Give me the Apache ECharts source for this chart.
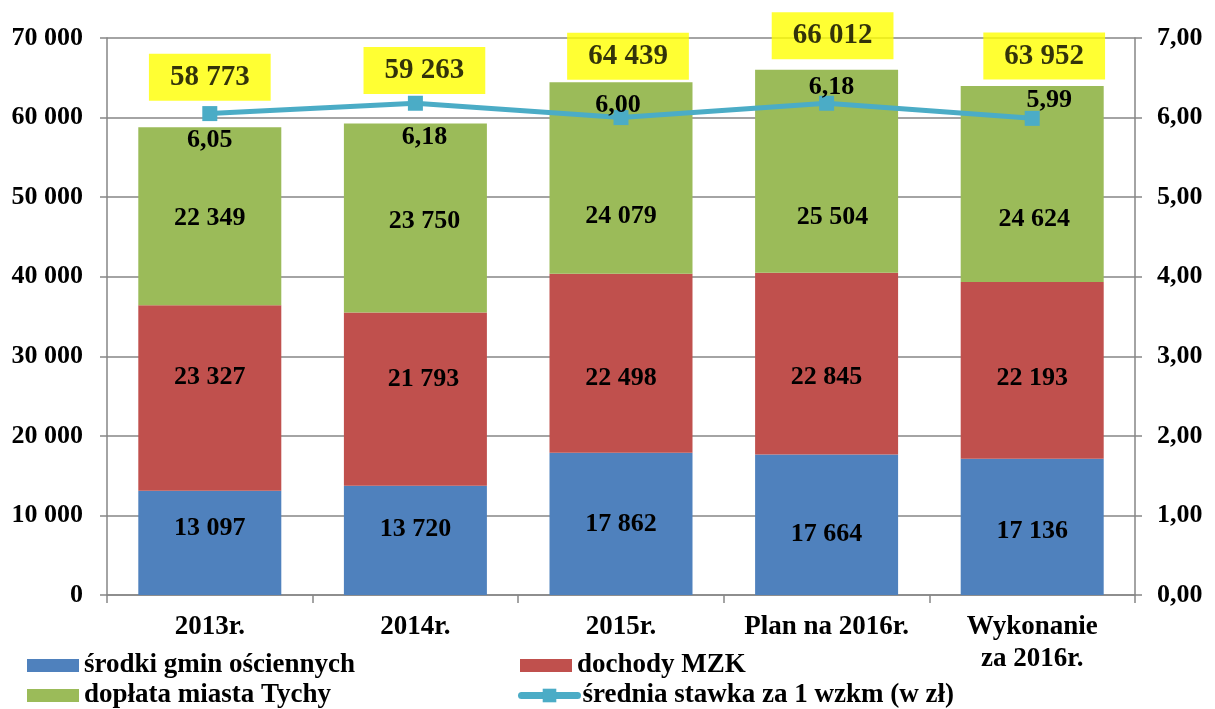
<!DOCTYPE html>
<html>
<head>
<meta charset="utf-8">
<script src="https://cdn.jsdelivr.net/npm/echarts@6/dist/echarts.min.js"></script>
<style>html,body{margin:0;padding:0;background:#fff}#c{width:1215px;height:709px}</style>
</head>
<body>
<div id="c"></div>
<script>
// ---- data ----
const categories = ['2013r.', '2014r.', '2015r.', 'Plan na 2016r.', 'Wykonanie\nza 2016r.'];
const srodkiGmin = [13097, 13720, 17862, 17664, 17136];
const dochodyMZK = [23327, 21793, 22498, 22845, 22193];
const doplataTychy = [22349, 23750, 24079, 25504, 24624];
const sumy = [58773, 59263, 64439, 66012, 63952];
const stawka = [6.05, 6.18, 6.00, 6.18, 5.99];
const leftTicks = [0, 70000, 10000];
const rightTicks = [0, 7, 1];
const seriesNames = ['środki gmin ościennych', 'dochody MZK', 'dopłata miasta Tychy', 'średnia stawka za 1 wzkm (w zł)'];

// ---- label placement (styling) ----
const offBlue = [[0,-15],[0,-11],[0,0],[0,10],[0,4]];
const offRed = [[0,-21],[8,-20],[0,15],[0,14],[0,8]];
const offGreen = [[0,2],[9,3],[0,38],[6,46],[2,35]];
const offLine = [[0,27],[9,34],[-3,-12],[5,-16],[17,-18]];
const offSum = [[0,-50],[9,-53],[7,-26],[6,-34],[12,-30]];

const FONT = "'Times New Roman','Liberation Serif',serif";
const fmtThousands = v => String(Math.round(v)).replace(/\B(?=(\d{3})+(?!\d))/g, ' ');
const fmtDec = v => Number(v).toFixed(2).replace('.', ',');

const segLabel = {show: true, position: 'inside', color: '#000', fontFamily: FONT, fontWeight: 'bold', fontSize: 26,
  formatter: p => fmtThousands(p.value)};
const withOff = (vals, offs) => vals.map((v, i) => ({value: v, label: {offset: offs[i]}}));

const legendText = {color: '#000', fontFamily: FONT, fontWeight: 'bold', fontSize: 27, lineHeight: 27};
const mkLegend = (name, left, top, extra) => Object.assign({left, top, padding: 0, itemWidth: 52, itemHeight: 13, itemGap: 0,
  icon: 'rect', data: [name], textStyle: legendText}, extra || {});

const chart = echarts.init(document.getElementById('c'), null, {renderer: 'canvas'});
const axisGray = '#868686';
chart.setOption({
  animation: false,
  backgroundColor: '#fff',
  grid: {left: 107, right: 80, top: 38, bottom: 114, containLabel: false},
  legend: [
    mkLegend(seriesNames[0], 27, 652),
    mkLegend(seriesNames[2], 27, 682),
    mkLegend(seriesNames[1], 520, 652),
    {left: 518, top: 682, padding: 0, itemWidth: 56, itemHeight: 17, itemGap: 0,
     data: [seriesNames[3]], textStyle: legendText, lineStyle: {width: 7, cap: 'round'}}
  ],
  xAxis: {
    type: 'category', data: categories,
    axisLine: {lineStyle: {color: axisGray, width: 1.5}},
    axisTick: {show: true, length: 8, lineStyle: {color: axisGray, width: 1.5}},
    axisLabel: {color: '#000', fontFamily: FONT, fontWeight: 'bold', fontSize: 27, lineHeight: 32, margin: 16, interval: 0}
  },
  yAxis: [
    {type: 'value', min: leftTicks[0], max: leftTicks[1], interval: leftTicks[2],
     axisLine: {show: true, lineStyle: {color: axisGray, width: 1.5}},
     axisTick: {show: true, length: 7, lineStyle: {color: axisGray, width: 1.5}},
     splitLine: {show: true, lineStyle: {color: axisGray, width: 1.5}},
     axisLabel: {color: '#000', fontFamily: FONT, fontWeight: 'bold', fontSize: 26, margin: 24, formatter: fmtThousands}},
    {type: 'value', min: rightTicks[0], max: rightTicks[1], interval: rightTicks[2], position: 'right',
     axisLine: {show: true, lineStyle: {color: axisGray, width: 1.5}},
     axisTick: {show: true, length: 7, lineStyle: {color: axisGray, width: 1.5}},
     splitLine: {show: false},
     axisLabel: {color: '#000', fontFamily: FONT, fontWeight: 'bold', fontSize: 26, margin: 22, formatter: fmtDec}}
  ],
  series: [
    {name: seriesNames[0], type: 'bar', stack: 'a', barWidth: 143, itemStyle: {color: '#4F81BD'},
     label: segLabel, data: withOff(srodkiGmin, offBlue)},
    {name: seriesNames[1], type: 'bar', stack: 'a', barWidth: 143, itemStyle: {color: '#C0504D'},
     label: segLabel, data: withOff(dochodyMZK, offRed)},
    {name: seriesNames[2], type: 'bar', stack: 'a', barWidth: 143, itemStyle: {color: '#9BBB59'},
     label: segLabel, data: withOff(doplataTychy, offGreen)},
    {name: seriesNames[3], type: 'line', yAxisIndex: 1, z: 5,
     symbol: 'rect', symbolSize: 15,
     lineStyle: {color: '#4BACC6', width: 5}, itemStyle: {color: '#4BACC6'},
     label: {show: true, position: 'inside', color: '#000', fontFamily: FONT, fontWeight: 'bold', fontSize: 26,
       formatter: p => fmtDec(p.value)},
     data: withOff(stawka, offLine)},
    {name: 'sumy', type: 'scatter', yAxisIndex: 0, z: 6, symbolSize: 0.01, silent: true,
     label: {show: true, position: 'inside', color: '#000', fontFamily: FONT, fontWeight: 'bold', fontSize: 29,
       lineHeight: 29, backgroundColor: '#FFFF00', padding: [15, 21, 3, 21],
       formatter: p => fmtThousands(p.value)},
     data: withOff(sumy, offSum)}
  ]
});
</script>
</body>
</html>
